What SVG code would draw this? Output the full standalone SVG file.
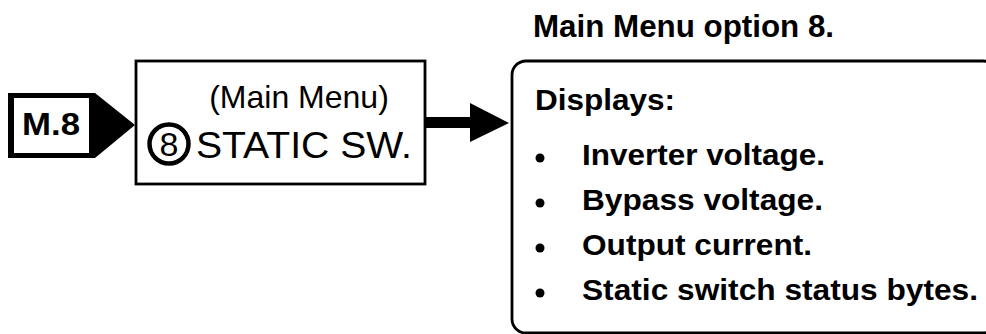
<svg xmlns="http://www.w3.org/2000/svg" width="986" height="334" viewBox="0 0 986 334">
<style>
.reg{font-family:"Liberation Sans",Arial,sans-serif;fill:#000}
.bold{font-family:"Liberation Sans",Arial,sans-serif;font-weight:bold;fill:#000;font-size:30px}
.box{fill:#fff;stroke:#000;stroke-width:2.8}
</style>
<rect width="986" height="334" fill="#fff"/>
<g id="tag-m8">
<path d="M8,93 L95,93 L135,125 L95,158 L8,158 Z" fill="#000"/>
<rect x="14" y="98" width="75" height="55" fill="#fff"/>
<text class="bold" x="51" y="135" text-anchor="middle" style="font-size:32px" textLength="58" lengthAdjust="spacingAndGlyphs">M.8</text>
</g>
<g id="menu-box">
<rect class="box" x="136" y="61" width="289" height="123"/>
<text class="reg" x="299" y="108" text-anchor="middle" font-size="32">(Main Menu)</text>
<circle cx="169" cy="144" r="19.5" fill="none" stroke="#000" stroke-width="4.5"/>
<text class="reg" x="169" y="156" text-anchor="middle" font-size="34">8</text>
<text class="reg" x="196" y="158" font-size="36" textLength="216" lengthAdjust="spacingAndGlyphs">STATIC SW.</text>
</g>
<g id="connectors">
<rect x="425" y="117" width="46" height="11" fill="#000"/>
<path d="M470,103 L509,123 L470,142 Z" fill="#000"/>
</g>
<g id="info-box">
<text class="bold" x="533" y="37" style="font-size:31px" textLength="301" lengthAdjust="spacingAndGlyphs">Main Menu option 8.</text>
<rect class="box" x="512" y="61" width="485" height="272" rx="14" ry="14"/>
<text class="bold" x="535" y="110" textLength="140" lengthAdjust="spacingAndGlyphs">Displays:</text>
<circle cx="540" cy="158" r="4.5" fill="#000"/>
<circle cx="540" cy="203" r="4.5" fill="#000"/>
<circle cx="540" cy="248" r="4.5" fill="#000"/>
<circle cx="540" cy="293" r="4.5" fill="#000"/>
<text class="bold" x="582" y="165" textLength="243" lengthAdjust="spacingAndGlyphs">Inverter voltage.</text>
<text class="bold" x="582" y="210" textLength="241" lengthAdjust="spacingAndGlyphs">Bypass voltage.</text>
<text class="bold" x="582" y="255" textLength="230" lengthAdjust="spacingAndGlyphs">Output current.</text>
<text class="bold" x="582" y="300" textLength="396" lengthAdjust="spacingAndGlyphs">Static switch status bytes.</text>
</g>
</svg>
